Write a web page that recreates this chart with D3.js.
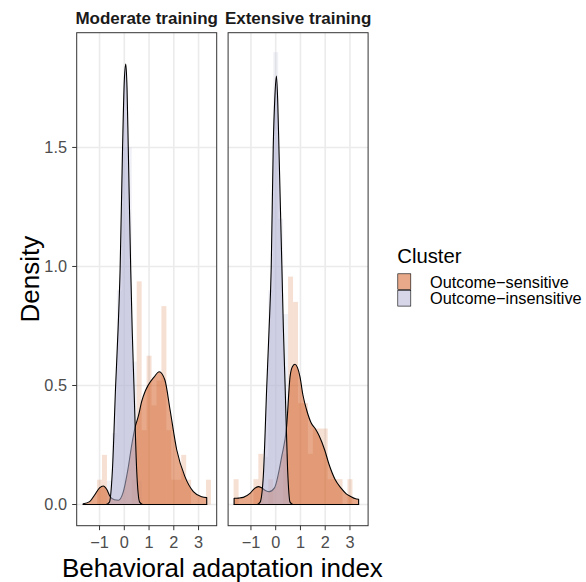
<!DOCTYPE html>
<html><head><meta charset="utf-8">
<script src="https://cdn.jsdelivr.net/npm/d3@7"></script>
<style>body{margin:0;background:#fff}svg{display:block}text{font-family:"Liberation Sans",Arial,Helvetica,sans-serif}</style>
</head><body>
<script>
// ---------------- data ----------------
const panels = ["Moderate training", "Extensive training"];
const clusters = ["Outcome\u2212sensitive", "Outcome\u2212insensitive"];
const xTicks = [-1, 0, 1, 2, 3];
const xTickLabels = ["\u22121", "0", "1", "2", "3"];
const yTicks = [0, 0.5, 1.0, 1.5];
const yTickLabels = ["0.0", "0.5", "1.0", "1.5"];

// histogram bins (left edges), width 0.2
const binWidth = 0.2;
const binLefts = [-1.7,-1.5,-1.3,-1.1,-0.9,-0.7,-0.5,-0.3,-0.1,0.1,0.3,0.5,0.7,0.9,1.1,1.3,1.5,1.7,1.9,2.1,2.3,2.5,2.7,2.9,3.1,3.3];
// counts per bin
const modSensCounts = [0,0,0,1,2,0,0,0,0,0,1,9,3,6,4,5,8,3,1,1,2,1,0,0,0,1];
const modInsCounts  = [0,0,0,0,0,1,3,9,15,15,6,1,0,0,0,0,0,0,0,0,0,0,0,0,0,0];
const extSensCounts = [1,0,0,0,1,2,0,1,0,0,2,9,8,4,4,2,3,3,3,1,1,1,0,1,0,0];
const extInsCounts  = [0,0,0,0,0,0,2,9,19,12,8,0,0,0,0,0,0,0,0,0,0,0,0,0,0,0];

// density curves
const modSensX = [-1.66,-1.4,-1.2,-1.0,-0.85,-0.7,-0.58,-0.4,-0.24,-0.05,0.15,0.3,0.45,0.57,0.70,0.84,0.97,1.2,1.41,1.64,1.85,2.12,2.45,2.79,3.13,3.33];
const modSensY = [0.003,0.012,0.04,0.07,0.078,0.062,0.035,0.02,0.018,0.05,0.15,0.25,0.33,0.372,0.432,0.475,0.502,0.535,0.558,0.523,0.397,0.229,0.117,0.054,0.033,0.029];
const modInsX = [-1.66,-0.75,-0.6,-0.48,-0.35,-0.25,-0.17,-0.07,0.0,0.06,0.11,0.16,0.26,0.32,0.39,0.5,0.62,0.75,3.33];
const modInsY = [0,0,0.01,0.145,0.5,0.74,0.985,1.5,1.78,1.85,1.75,1.5,0.985,0.73,0.5,0.145,0.01,0,0];
const extSensX = [-1.68,-1.5,-1.31,-1.04,-0.85,-0.70,-0.57,-0.4,-0.26,-0.05,0.24,0.44,0.58,0.68,0.78,0.88,0.98,1.1,1.25,1.44,1.6,1.75,1.98,2.15,2.4,2.65,2.85,3.05,3.2,3.35];
const extSensY = [0.026,0.027,0.03,0.047,0.068,0.075,0.07,0.058,0.054,0.07,0.2,0.327,0.537,0.58,0.589,0.575,0.537,0.46,0.397,0.341,0.318,0.29,0.229,0.17,0.105,0.068,0.045,0.033,0.025,0.022];
const extInsX = [-1.68,-0.75,-0.63,-0.5,-0.36,-0.27,-0.18,-0.1,-0.03,0.03,0.08,0.13,0.25,0.31,0.38,0.48,0.58,0.7,3.35];
const extInsY = [0,0,0.01,0.12,0.5,0.73,1.0,1.5,1.72,1.80,1.7,1.5,1.0,0.74,0.5,0.15,0.01,0,0];

const panelData = [
  {sens:{x:modSensX,y:modSensY,counts:modSensCounts}, ins:{x:modInsX,y:modInsY,counts:modInsCounts}},
  {sens:{x:extSensX,y:extSensY,counts:extSensCounts}, ins:{x:extInsX,y:extInsY,counts:extInsCounts}}
];

// ---------------- layout ----------------
const W = 586, H = 582;
const panelLeft = [76.7, 228.1], panelW = 140, panelTop = 32.7, panelBottom = 525.7;
const fillSens = "#D4622A", fillIns = "#B4B4D6";

const svg = d3.select("body").append("svg").attr("width", W).attr("height", H);

const y = d3.scaleLinear().domain([-0.089, 1.982]).range([panelBottom, panelTop]);

panelData.forEach((pd, i) => {
  const x = d3.scaleLinear().domain([-1.923, 3.733]).range([panelLeft[i], panelLeft[i] + panelW]);
  const g = svg.append("g");
  const clipId = "clip" + i;
  svg.append("clipPath").attr("id", clipId).append("rect")
    .attr("x", panelLeft[i]).attr("y", panelTop).attr("width", panelW).attr("height", panelBottom - panelTop);
  // grid
  g.selectAll(".gx").data(xTicks).join("line")
    .attr("x1", d => x(d)).attr("x2", d => x(d)).attr("y1", panelTop).attr("y2", panelBottom)
    .attr("stroke", "#EBEBEB").attr("stroke-width", 1.6);
  g.selectAll(".gy").data(yTicks).join("line")
    .attr("y1", d => y(d)).attr("y2", d => y(d)).attr("x1", panelLeft[i]).attr("x2", panelLeft[i] + panelW)
    .attr("stroke", "#EBEBEB").attr("stroke-width", 1.6);

  const plot = g.append("g").attr("clip-path", `url(#${clipId})`);
  // histograms
  [["sens", fillSens], ["ins", fillIns]].forEach(([k, col]) => {
    const counts = pd[k].counts;
    const n = d3.sum(counts);
    const bins = binLefts.map((b, j) => ({x0: b, h: counts[j] / (n * binWidth)})).filter(d => d.h > 0);
    plot.selectAll(".bar-" + k).data(bins).join("rect")
      .attr("x", d => x(d.x0)).attr("width", d => x(d.x0 + binWidth) - x(d.x0))
      .attr("y", d => y(d.h)).attr("height", d => y(0) - y(d.h))
      .attr("fill", col).attr("fill-opacity", 0.2);
  });
  // densities
  const area = d3.area().x(d => x(d[0])).y0(y(0)).y1(d => y(d[1])).curve(d3.curveMonotoneX);
  [["sens", fillSens, 0.55], ["ins", fillIns, 0.55]].forEach(([k, col, op]) => {
    const pts = pd[k].x.map((v, j) => [v, pd[k].y[j]]);
    plot.append("path").attr("d", area(pts) ).attr("fill", col).attr("fill-opacity", op)
      .attr("stroke", "#000").attr("stroke-width", 1.1).attr("stroke-linejoin", "round");
  });
  // border
  g.append("rect").attr("x", panelLeft[i]).attr("y", panelTop).attr("width", panelW).attr("height", panelBottom - panelTop)
    .attr("fill", "none").attr("stroke", "#333333").attr("stroke-width", 1);
  // x axis ticks & labels
  g.selectAll(".tx").data(xTicks).join("line")
    .attr("x1", d => x(d)).attr("x2", d => x(d)).attr("y1", panelBottom).attr("y2", panelBottom + 4.5)
    .attr("stroke", "#333333").attr("stroke-width", 1);
  g.selectAll(".lx").data(xTicks).join("text")
    .attr("x", d => x(d)).attr("y", 547.5).attr("text-anchor", "middle")
    .attr("font-size", 16.3).attr("fill", "#4D4D4D").text((d, j) => xTickLabels[j]);
  // strip
  g.append("text").attr("x", panelLeft[i] + panelW / 2).attr("y", 24).attr("text-anchor", "middle")
    .attr("font-size", 17).attr("font-weight", "bold").attr("fill", "#1A1A1A").text(panels[i]);
});

// y axis
const ya = svg.append("g");
ya.selectAll("line").data(yTicks).join("line")
  .attr("x1", panelLeft[0] - 4.5).attr("x2", panelLeft[0]).attr("y1", d => y(d)).attr("y2", d => y(d))
  .attr("stroke", "#333333").attr("stroke-width", 1);
ya.selectAll("text").data(yTicks).join("text")
  .attr("x", 67).attr("y", d => y(d) + 5.8).attr("text-anchor", "end")
  .attr("font-size", 16.3).attr("fill", "#4D4D4D").text((d, j) => yTickLabels[j]);

// axis titles
svg.append("text").attr("x", (panelLeft[0] + panelLeft[1] + panelW) / 2).attr("y", 576.5)
  .attr("text-anchor", "middle").attr("font-size", 26).attr("fill", "#000").text("Behavioral adaptation index");
svg.append("text").attr("transform", `translate(39,${(panelTop + panelBottom) / 2}) rotate(-90)`)
  .attr("text-anchor", "middle").attr("font-size", 26).attr("fill", "#000").text("Density");

// legend
const lg = svg.append("g");
lg.append("text").attr("x", 397.3).attr("y", 262.5).attr("font-size", 20.3).attr("fill", "#000").text("Cluster");
[fillSens, fillIns].forEach((col, j) => {
  lg.append("rect").attr("x", 397.8).attr("y", 273.8 + j * 16.5).attr("width", 13).attr("height", 15.8)
    .attr("fill", "#fff");
  lg.append("rect").attr("x", 397.8).attr("y", 273.8 + j * 16.5).attr("width", 13).attr("height", 15.8)
    .attr("fill", col).attr("fill-opacity", 0.55).attr("stroke", "#000").attr("stroke-width", 0.6);
  lg.append("text").attr("x", 430).attr("y", 281.7 + j * 16.5 + 5.8).attr("font-size", 16.3).attr("fill", "#000")
    .text(clusters[j]);
});
</script>
</body></html>
